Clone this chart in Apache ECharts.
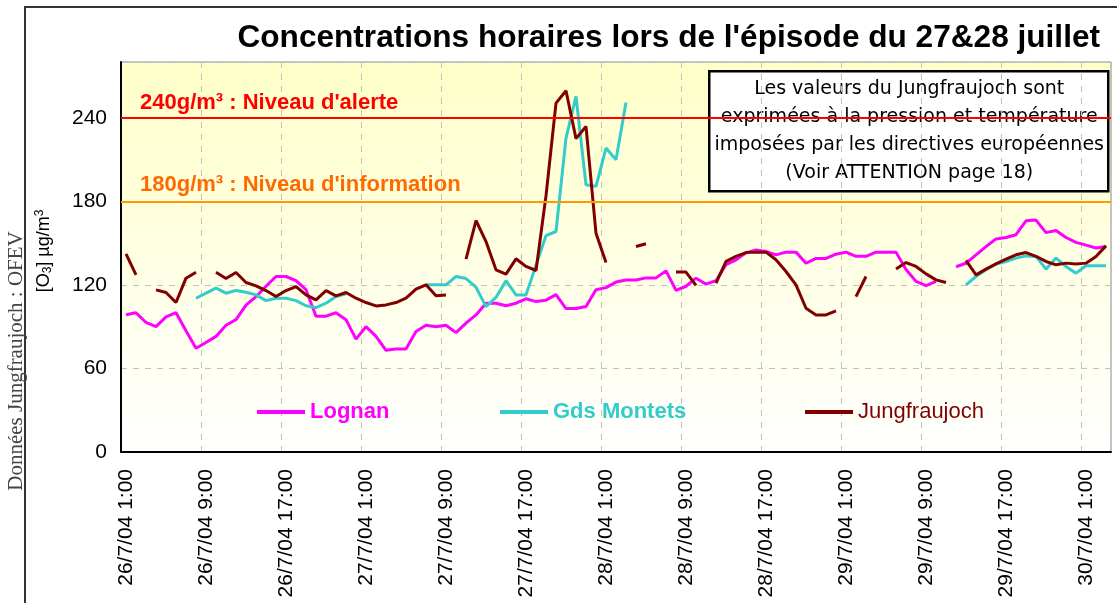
<!DOCTYPE html>
<html>
<head>
    <meta charset="utf-8">
    <title>Concentrations horaires O3</title>
    <script src="https://cdn.jsdelivr.net/npm/echarts@6/dist/echarts.min.js"></script>
    <style>
        html, body { margin: 0; padding: 0; background: #fff; }
        #chart1 { width: 1117px; height: 603px; }
    </style>
</head>
<body>
<div id="chart1"></div>
<script type="text/javascript">
    // heures : 26/7/04 1:00 -> 30/7/04 3:00
    var startDay = 26, hourCount = 99;
    var categories = [];
    for (var i = 0; i < hourCount; i++) {
        var h = 1 + i;
        categories.push((startDay + Math.floor(h / 24)) + '/7/04 ' + (h % 24) + ':00');
    }

    var yTicks = [0, 60, 120, 180, 240];
    var seuilAlerte = 240;
    var seuilInfo = 180;

    var lognan = [
        98.5, 100, 93, 90, 97, 100, 87, 74.5, 78.6, 83,
        91, 95, 105.5, 111.5, 119, 126, 126, 123, 116.5, 97.5,
        97.5, 100, 95, 81, 90, 83, 73, 74, 74, 86.5,
        91, 90, 91, 85.7, 92.5, 98.4, 106.8, 106.8, 105, 106.8,
        110, 108, 109, 113, 103, 103, 104.5, 116.5, 118, 122,
        123.5, 123.5, 125, 125, 130, 116, 119, 124.8, 120.5, 123,
        134.5, 138, 143, 145, 144, 141.5, 143.5, 143.5, 135.5, 139,
        139, 142, 143.5, 140.5, 140.5, 143.5, 143.5, 143.5, 131, 122.5,
        119.5, 122.5, null, 133, 135.5, 141.5, 147.5, 153, 154, 156,
        166, 166.5, 157.5, 159, 154, 150.5, 148.5, 146.5, 147.5
    ];

    var gdsMontets = [
        null, null, null, null, null, null, null, 110.4, 114, 117.6,
        114, 116, 114.7, 112.8, 108.7, 110.4, 110.4, 108.7, 105, 103.7,
        106.8, 111.6, 113.5, null, null, null, null, null, null, null,
        120, 120, 120, 126, 124.5, 118.3, 104.4, 111, 123, 112.8,
        112.8, 134, 155.4, 158.3, 225.4, 255.3, 191.8, 190.7, 218.2, 209.8,
        251, null, null, null, null, null, null, null, null, null,
        null, null, null, null, null, null, null, null, null, null,
        null, null, null, null, null, null, null, null, null, null,
        null, null, null, null, 120, 126, 130.8, 135, 136.8, 139.2,
        140.8, 140.4, 131.3, 139.2, 133.2, 128.4, 133.7, 133.7, 133.7
    ];

    var jungfraujoch = [
        142.3, 127.2, null, 116.4, 114.5, 107.3, 124.8, 129.1, null, 129.1,
        124.6, 128.9, 121.7, 119.3, 115.9, 111.6, 115.9, 118.8, 112.8, 109.2,
        115.9, 112.1, 114.5, 110.4, 107.3, 104.9, 105.6, 107.3, 110.4, 116.9,
        120, 112.1, 112.8, null, 138.4, 166.2, 151.1, 130.8, 127.7, 138.7,
        133.2, 130.3, 184, 250.5, 259.4, 225, 233.8, 157, 136, null,
        null, 147.5, 149.5, null, null, 129.2, 129.2, 119.6, null, 121.2,
        136.8, 140.4, 143.2, 143.5, 143.5, 138, 129.6, 120, 103.2, 98.4,
        98.4, 101.3, null, 111.6, 126, null, null, 131.3, 136, 133.2,
        127.9, 123.6, 121.7, null, 137.5, 127.2, 131.3, 135.1, 138.5, 141.6,
        143.2, 140.4, 136.8, 134.4, 135.6, 134.9, 135.6, 140.4, 148
    ];

    var boxLines = [
        'Les valeurs du Jungfraujoch sont',
        'exprimées à la pression et température',
        'imposées par les directives européennes',
        '(Voir ATTENTION page 18)'
    ];

    var sans = '"Liberation Sans", Arial, sans-serif';

    var myChart = echarts.init(document.getElementById('chart1'));

    function legendAt(name, left, color, bold) {
        return {
            data: [name],
            left: left,
            top: 396,
            icon: 'rect',
            itemWidth: 48,
            itemHeight: 4,
            selectedMode: false,
            textStyle: { color: color, fontSize: 22, fontWeight: bold ? 'bold' : 'normal', fontFamily: sans }
        };
    }

    var option = {
        animation: false,
        backgroundColor: '#fff',
        textStyle: { fontFamily: sans },
        title: {
            text: "Concentrations horaires lors de l'épisode du 27&28 juillet",
            right: 12,
            top: 17,
            textStyle: { fontSize: 31.6, fontWeight: 'bold', color: '#000', fontFamily: sans }
        },
        legend: [
            legendAt('Lognan', 252, '#FF00FF', true),
            legendAt('Gds Montets', 495, '#33CCCC', true),
            legendAt('Jungfraujoch', 800, '#800000', false)
        ],
        grid: {
            left: 121, right: 6, top: 62, bottom: 151,
            show: true,
            borderColor: '#8c8c8c',
            borderWidth: 1,
            backgroundColor: {
                type: 'linear', x: 0, y: 0, x2: 0, y2: 1,
                colorStops: [{ offset: 0, color: '#FFFFC8' }, { offset: 1, color: '#FFFFFF' }]
            }
        },
        xAxis: {
            type: 'category',
            data: categories,
            boundaryGap: true,
            axisLine: { lineStyle: { color: '#000', width: 2 } },
            axisTick: { interval: 7, inside: true, length: 5, lineStyle: { color: '#000' } },
            axisLabel: { interval: 7, rotate: 90, margin: 17, fontSize: 21, color: '#000', fontFamily: sans },
            splitLine: { show: true, interval: 7, lineStyle: { color: '#c0c0c0', type: [6, 6] } }
        },
        yAxis: {
            type: 'value',
            min: yTicks[0],
            max: 280,
            interval: 60,
            axisLine: { show: true, lineStyle: { color: '#000', width: 2 } },
            axisTick: { show: false },
            axisLabel: { fontSize: 21, color: '#000', margin: 14, showMaxLabel: false, fontFamily: sans },
            splitLine: { lineStyle: { color: '#c0c0c0', type: [6, 6] } }
        },
        graphic: [
            {
                type: 'rect',
                shape: { x: 25, y: 7, width: 1120, height: 620 },
                style: { fill: 'none', stroke: '#333', lineWidth: 2 },
                silent: true, z: 0
            },
            {
                type: 'text',
                x: 16, y: 361,
                rotation: Math.PI / 2,
                style: {
                    text: 'Données Jungfraujoch : OFEV',
                    font: '21px "Liberation Serif", "Times New Roman", serif',
                    fill: '#444', align: 'center', verticalAlign: 'middle'
                }
            },
            {
                type: 'text',
                x: 44, y: 251,
                rotation: Math.PI / 2,
                style: {
                    text: '[O{sub|3}] µg/m{sup|3}',
                    font: '18px ' + sans,
                    fill: '#000', align: 'center', verticalAlign: 'middle',
                    rich: {
                        sub: { fontSize: 12, verticalAlign: 'bottom', padding: [8, 0, 0, 0], fontFamily: sans },
                        sup: { fontSize: 12, verticalAlign: 'top', padding: [0, 0, 8, 0], fontFamily: sans }
                    }
                }
            },
            {
                type: 'group',
                left: 708, top: 70,
                z: 100,
                children: [
                    {
                        type: 'rect',
                        shape: { x: 0, y: 0, width: 399, height: 120 },
                        style: { fill: '#fff', stroke: '#000', lineWidth: 2.5 }
                    },
                    {
                        type: 'text',
                        x: 200, y: 60,
                        style: {
                            text: boxLines.join('\n'),
                            font: '19px "DejaVu Sans", sans-serif',
                            lineHeight: 28,
                            fill: '#000', align: 'center', verticalAlign: 'middle'
                        }
                    }
                ]
            }
        ],
        series: [
            {
                name: 'Lognan',
                type: 'line',
                data: lognan,
                showSymbol: false,
                symbol: 'none',
                lineStyle: { color: '#FF00FF', width: 3 },
                itemStyle: { color: '#FF00FF' },
                markLine: {
                    silent: true,
                    symbol: ['none', 'none'],
                    data: [
                        {
                            yAxis: seuilAlerte,
                            lineStyle: { color: '#FF0000', width: 2, type: 'solid' },
                            label: {
                                position: 'insideStartTop', distance: [19, 4],
                                formatter: '240g/m³ : Niveau d\'alerte',
                                color: '#FF0000', fontSize: 22, fontWeight: 'bold', fontFamily: sans
                            }
                        },
                        {
                            yAxis: seuilInfo,
                            lineStyle: { color: '#FF9900', width: 2, type: 'solid' },
                            label: {
                                position: 'insideStartTop', distance: [19, 5],
                                formatter: '180g/m³ : Niveau d\'information',
                                color: '#FF6A00', fontSize: 22, fontWeight: 'bold', fontFamily: sans
                            }
                        }
                    ]
                }
            },
            {
                name: 'Gds Montets',
                type: 'line',
                data: gdsMontets,
                showSymbol: false,
                symbol: 'none',
                lineStyle: { color: '#33CCCC', width: 3 },
                itemStyle: { color: '#33CCCC' }
            },
            {
                name: 'Jungfraujoch',
                type: 'line',
                data: jungfraujoch,
                showSymbol: false,
                symbol: 'none',
                lineStyle: { color: '#800000', width: 3 },
                itemStyle: { color: '#800000' }
            }
        ]
    };

    myChart.setOption(option);
</script>
</body>
</html>
